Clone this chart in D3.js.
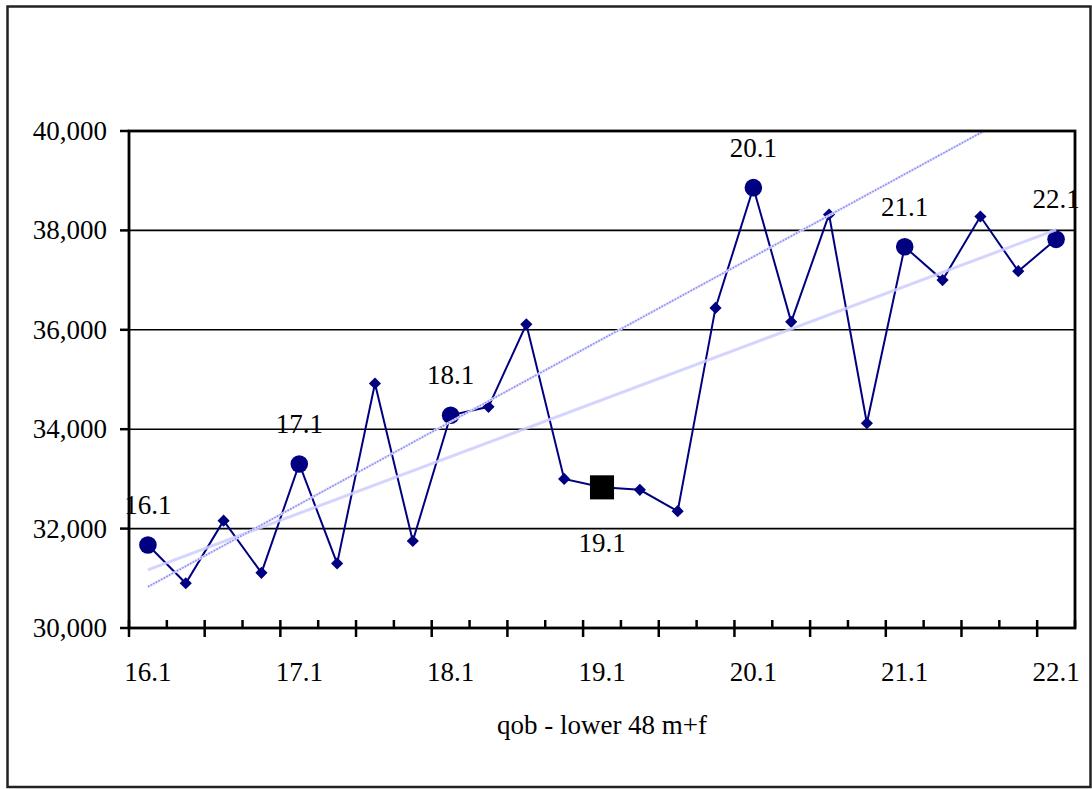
<html>
<head>
	<title>qob - lower 48 m+f</title>
	<style type="text/css">
		body {margin: 0; background: #fff;}
	</style>
</head>
<body>
	<svg id="chart" width="1092" height="789"></svg>

	<script src="https://cdnjs.cloudflare.com/ajax/libs/d3/7.8.5/d3.min.js"></script>
	<script>
		// quarters shown on the category axis
		var quarters = ["16.1","16.2","16.3","16.4","17.1","17.2","17.3","17.4",
		                "18.1","18.2","18.3","18.4","19.1","19.2","19.3","19.4",
		                "20.1","20.2","20.3","20.4","21.1","21.2","21.3","21.4","22.1"];
		var values = [31670,30900,32160,31110,33300,31300,34920,31750,
		              34280,34450,36110,33000,32830,32780,32350,36440,
		              38860,36160,38320,34120,37670,37000,38280,37180,37820];
		var yTicks = [30000,32000,34000,36000,38000,40000];
		var labelled = ["16.1","17.1","18.1","19.1","20.1","21.1","22.1"];
		var squareQuarters = ["19.1"];
		var earlyTrendLast = "18.3";   // dotted trend fitted on 16.1 .. 18.3

		var data = quarters.map(function (q, i) { return {q: q, i: i, v: values[i]}; });
		var FONT = "'Liberation Serif', 'Times New Roman', 'DejaVu Serif', serif";

		var svg = d3.select("#chart")
			.attr("font-family", FONT)
			.attr("font-size", 27);
		var width = 1092, height = 789,
		    margin = {top: 131, left: 129, right: 17, bottom: 161},
		    innerWidth = width - margin.left - margin.right,
		    innerHeight = height - margin.top - margin.bottom;

		// outer frame
		svg.append("rect")
			.attr("x", 7.5).attr("y", 6.5)
			.attr("width", 1083).attr("height", 780.5)
			.attr("fill", "#fff").attr("stroke", "#222").attr("stroke-width", 2.5);

		var g = svg.append("g").attr("transform", "translate(" + margin.left + "," + margin.top + ")");

		var xScale = d3.scaleBand().domain(quarters).range([0, innerWidth]).padding(0);
		var edgeScale = d3.scaleLinear().domain([0, quarters.length]).range([0, innerWidth]);
		var yScale = d3.scaleLinear().domain([30000, 40000]).range([innerHeight, 0]);
		var cx = function (d) { return xScale(d.q) + xScale.bandwidth() / 2; };
		var cy = function (d) { return yScale(d.v); };

		g.append("clipPath").attr("id", "plotclip")
			.append("rect").attr("width", innerWidth).attr("height", innerHeight);

		// gridlines
		g.selectAll("line.grid").data(yTicks.slice(1, -1))
			.enter().append("line").attr("class", "grid")
			.attr("x1", 0).attr("x2", innerWidth)
			.attr("y1", function (d) { return yScale(d); })
			.attr("y2", function (d) { return yScale(d); })
			.attr("stroke", "#000").attr("stroke-width", 1.6);

		// y axis labels + ticks
		g.selectAll("line.ytick").data(yTicks)
			.enter().append("line").attr("class", "ytick")
			.attr("x1", -9).attr("x2", 0)
			.attr("y1", function (d) { return yScale(d); })
			.attr("y2", function (d) { return yScale(d); })
			.attr("stroke", "#000").attr("stroke-width", 2.5);
		g.selectAll("text.ylab").data(yTicks)
			.enter().append("text").attr("class", "ylab")
			.attr("x", -22)
			.attr("y", function (d) { return yScale(d) + 9; })
			.attr("text-anchor", "end")
			.text(d3.format(","));

		// series line and markers
		var line = d3.line().x(cx).y(cy);
		g.append("path").datum(data)
			.attr("d", line)
			.attr("fill", "none").attr("stroke", "#000080").attr("stroke-width", 2);

		var diamonds = data.filter(function (d) { return labelled.indexOf(d.q) < 0; });
		var circles = data.filter(function (d) { return labelled.indexOf(d.q) >= 0 && squareQuarters.indexOf(d.q) < 0; });
		var squares = data.filter(function (d) { return squareQuarters.indexOf(d.q) >= 0; });

		g.selectAll("path.diamond").data(diamonds)
			.enter().append("path").attr("class", "diamond")
			.attr("d", d3.symbol(d3.symbolSquare, 74))
			.attr("transform", function (d) { return "translate(" + cx(d) + "," + cy(d) + ") rotate(45)"; })
			.attr("fill", "#000080");
		g.selectAll("circle.pt").data(circles)
			.enter().append("circle").attr("class", "pt")
			.attr("cx", cx).attr("cy", cy).attr("r", 8.8)
			.attr("fill", "#000080");
		g.selectAll("path.square").data(squares)
			.enter().append("path").attr("class", "square")
			.attr("d", d3.symbol(d3.symbolSquare, 580))
			.attr("transform", function (d) { return "translate(" + cx(d) + "," + cy(d) + ")"; })
			.attr("fill", "#000");

		// linear trendlines (least squares)
		function fit(pts) {
			var mx = d3.mean(pts, function (d) { return d.i; }),
			    my = d3.mean(pts, function (d) { return d.v; });
			var sxy = d3.sum(pts, function (d) { return (d.i - mx) * (d.v - my); }),
			    sxx = d3.sum(pts, function (d) { return (d.i - mx) * (d.i - mx); });
			var b = sxy / sxx;
			return function (i) { return my + b * (i - mx); };
		}
		var allFit = fit(data);
		var earlyFit = fit(data.slice(0, quarters.indexOf(earlyTrendLast) + 1));
		var ends = [data[0], data[data.length - 1]];
		var trendLine = function (f) {
			return d3.line()
				.x(cx)
				.y(function (d) { return yScale(f(d.i)); });
		};

		g.append("path").datum(ends)
			.attr("d", trendLine(allFit))
			.attr("clip-path", "url(#plotclip)")
			.attr("fill", "none").attr("stroke", "#ccccff").attr("stroke-opacity", 0.85).attr("stroke-width", 3);
		g.append("path").datum(ends)
			.attr("d", trendLine(earlyFit))
			.attr("clip-path", "url(#plotclip)")
			.attr("fill", "none").attr("stroke", "#dcdcff").attr("stroke-width", 2.5);
		g.append("path").datum(ends)
			.attr("d", trendLine(earlyFit))
			.attr("clip-path", "url(#plotclip)")
			.attr("fill", "none").attr("stroke", "#8c8cf0").attr("stroke-width", 1.6)
			.attr("stroke-dasharray", "1.5,1.5");

		// data labels
		g.selectAll("text.dlab").data(data.filter(function (d) { return labelled.indexOf(d.q) >= 0; }))
			.enter().append("text").attr("class", "dlab")
			.attr("x", cx)
			.attr("y", function (d) { return squareQuarters.indexOf(d.q) >= 0 ? cy(d) + 65 : cy(d) - 31; })
			.attr("text-anchor", "middle")
			.text(function (d) { return d.q; });

		// plot border
		g.append("rect")
			.attr("width", innerWidth).attr("height", innerHeight)
			.attr("fill", "none").attr("stroke", "#000").attr("stroke-width", 2.8);

		// x axis ticks: major every 2 categories crossing the axis, minor inside
		g.selectAll("line.xtick").data(d3.range(0, quarters.length + 1))
			.enter().append("line").attr("class", "xtick")
			.attr("x1", function (d) { return edgeScale(d); })
			.attr("x2", function (d) { return edgeScale(d); })
			.attr("y1", innerHeight - 8)
			.attr("y2", function (d) { return d % 2 === 0 ? innerHeight + 9 : innerHeight; })
			.attr("stroke", "#000").attr("stroke-width", 2.5);

		g.selectAll("text.xlab").data(data.filter(function (d) { return labelled.indexOf(d.q) >= 0; }))
			.enter().append("text").attr("class", "xlab")
			.attr("x", cx)
			.attr("y", innerHeight + 53)
			.attr("text-anchor", "middle")
			.text(function (d) { return d.q; });

		g.append("text")
			.attr("x", innerWidth / 2)
			.attr("y", innerHeight + 106)
			.attr("text-anchor", "middle")
			.text("qob - lower 48 m+f");
	</script>
</body>
</html>
